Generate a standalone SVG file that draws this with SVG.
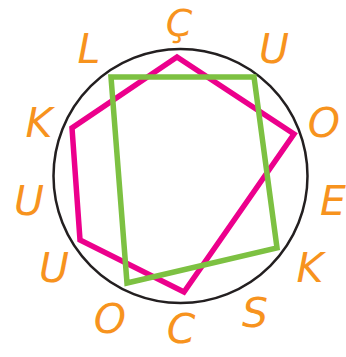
<svg xmlns="http://www.w3.org/2000/svg" width="346" height="357" viewBox="0 0 346 357">
<style>
.lt{font-family:"DejaVu Sans","Liberation Sans",sans-serif;font-style:italic;font-size:41px;fill:#F7931E;text-anchor:middle}
</style>
<rect width="346" height="357" fill="#fff"/>
<g id="circle"><ellipse cx="180.5" cy="176" rx="127" ry="127" fill="none" stroke="#231F20" stroke-width="2.5"/></g>
<g id="pentagon"><polygon points="177,57 294,134 184,292 80,240 72,128" fill="none" stroke="#EC008C" stroke-width="5.5" stroke-linejoin="miter"/></g>
<g id="quad"><polygon points="111,77 254,77 277,248 127,283" fill="none" stroke="#7DC142" stroke-width="5.5" stroke-linejoin="miter"/></g>
<g id="letters">
<text class="lt" x="179" y="36" style="font-size:38px">Ç</text>
<text class="lt" x="274" y="63">U</text>
<text class="lt" x="324" y="137">O</text>
<text class="lt" x="333" y="215">E</text>
<text class="lt" x="310" y="282">K</text>
<text class="lt" x="255" y="327">S</text>
<text class="lt" x="181" y="343">C</text>
<text class="lt" x="110" y="333">O</text>
<text class="lt" x="54" y="282">U</text>
<text class="lt" x="29" y="215">U</text>
<text class="lt" x="39" y="137">K</text>
<text class="lt" x="89" y="63">L</text>
</g>
</svg>
